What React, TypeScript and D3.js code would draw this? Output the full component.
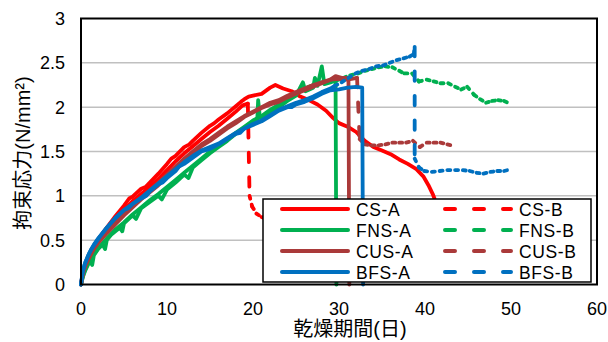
import React, { useEffect, useRef } from 'react';
import * as d3 from 'd3';

type Pt = [number, number];

// days / restraint stress (N/mm2)
const csA: Pt[] = [[0,0],[0.2,0.12],[0.5,0.22],[1,0.34],[1.5,0.43],[2,0.51],[3,0.64],[4,0.77],[5,0.89],[5.6,0.97],[6,0.99],[7,1.08],[7.5,1.1],[8,1.15],[9,1.25],[10,1.36],[10.5,1.42],[11,1.45],[12,1.55],[12.6,1.58],[13,1.62],[14,1.71],[15,1.79],[15.5,1.82],[16,1.86],[17,1.93],[18,2.01],[18.6,2.06],[19,2.09],[19.5,2.12],[20,2.13],[21,2.15],[22,2.22],[22.6,2.25],[23.5,2.21],[24.5,2.18],[25.5,2.12],[26.5,2.08],[27.5,2.03],[28.5,1.96],[29.3,1.88],[30,1.82],[31,1.78],[32,1.72],[33,1.62],[34,1.55],[35,1.51],[36,1.47],[37,1.41],[38,1.36],[39,1.3],[39.8,1.22],[40.4,1.12],[40.9,1.02],[41.1,0.97]];
const csBRise: Pt[] = [[0,0],[0.2,0.11],[0.5,0.2],[1,0.31],[1.5,0.4],[2,0.48],[3,0.6],[4,0.72],[5,0.84],[6,0.94],[7,1.02],[8,1.1],[9,1.19],[10,1.29],[11,1.39],[12,1.48],[13,1.56],[14,1.64],[15,1.72],[16,1.79],[17,1.87],[18,1.95],[18.8,2.02],[19.4,2.04]];
const csBTail: Pt[] = [[19.4,2.04],[19.6,1.0],[19.9,0.88],[20.4,0.8],[21,0.76],[22,0.72],[23,0.7]];

const fnsA: Pt[] = [[0,0],[0.2,0.08],[0.5,0.16],[1,0.26],[1.3,0.22],[1.5,0.33],[2,0.4],[2.5,0.45],[2.8,0.4],[3,0.5],[3.5,0.56],[4,0.6],[4.5,0.64],[4.8,0.6],[5,0.69],[6,0.78],[6.4,0.74],[7,0.86],[8,0.93],[9,1.0],[9.4,0.96],[10,1.07],[11,1.15],[12,1.24],[12.5,1.2],[13,1.32],[14,1.4],[15,1.48],[16,1.55],[17,1.62],[18,1.7],[19,1.77],[20,1.84],[20.5,1.86],[20.6,2.08],[20.8,1.88],[22,1.94],[23,2.0],[24,2.07],[25,2.13],[25.8,2.28],[26.1,2.18],[27,2.22],[27.2,2.33],[27.5,2.24],[28,2.46],[28.3,2.26],[29,2.28],[29.6,2.3],[29.7,0]];
const fnsBRise: Pt[] = [[0,0],[0.3,0.12],[0.7,0.22],[1.2,0.3],[2,0.41],[3,0.52],[4,0.62],[5,0.7],[6,0.79],[7,0.87],[8,0.95],[9,1.02],[10,1.1],[11,1.18],[12,1.26],[13,1.34],[14,1.42],[15,1.5],[16,1.57],[17,1.64],[18,1.71],[19,1.78],[20,1.85],[21,1.9],[22,1.97],[23,2.03],[24,2.09],[25,2.15],[26,2.21],[27,2.25],[28,2.28],[29,2.3],[29.7,2.3]];
const fnsBTail: Pt[] = [[29.7,2.3],[30.5,2.33],[31.3,2.36],[32.2,2.38],[33,2.41],[33.8,2.43],[34.6,2.45],[35.4,2.46],[36.2,2.45],[37,2.41],[37.6,2.38],[38.5,2.38],[39.3,2.29],[40.2,2.31],[41,2.29],[41.8,2.27],[42.7,2.27],[43.5,2.23],[44.2,2.2],[44.9,2.23],[45.7,2.14],[46.4,2.09],[47.1,2.05],[47.8,2.07],[48.5,2.08],[49.2,2.07],[49.9,2.04]];

const cusA: Pt[] = [[0,0],[0.2,0.12],[0.5,0.21],[1,0.31],[1.5,0.4],[2,0.47],[3,0.58],[4,0.68],[5,0.78],[6,0.87],[7,0.96],[8,1.04],[9,1.12],[10,1.21],[11,1.31],[12,1.4],[13,1.48],[14,1.56],[15,1.62],[16,1.69],[17,1.76],[18,1.82],[19,1.89],[20,1.94],[21,1.99],[22,2.03],[23,2.06],[24,2.11],[25,2.15],[26,2.19],[27,2.23],[28,2.27],[29,2.31],[29.6,2.35],[30.3,2.33],[31.1,2.33],[31.2,0]];
const cusBRise: Pt[] = [[0,0],[0.3,0.15],[0.7,0.26],[1.2,0.36],[2,0.48],[3,0.59],[4,0.69],[5,0.8],[6,0.89],[7,0.98],[8,1.06],[9,1.15],[10,1.24],[11,1.33],[12,1.42],[13,1.5],[14,1.58],[15,1.64],[16,1.71],[17,1.78],[18,1.84],[19,1.9],[20,1.95],[21,2.0],[22,2.05],[23,2.08],[24,2.13],[25,2.17],[26,2.21],[27,2.25],[28,2.28],[29,2.31],[30,2.32],[31,2.31],[32.1,2.33]];
const cusBTail: Pt[] = [[32.1,2.33],[32.4,1.64],[33,1.58],[33.8,1.57],[34.6,1.57],[35.4,1.58],[36.2,1.6],[37,1.6],[37.8,1.6],[38.6,1.62],[39.4,1.55],[40.2,1.6],[41,1.6],[41.8,1.6],[42.6,1.58],[43.5,1.56]];

const bfsA: Pt[] = [[0,0],[0.15,0.12],[0.4,0.22],[0.8,0.32],[1.2,0.4],[1.7,0.47],[2.2,0.54],[3,0.64],[4,0.75],[5,0.84],[5.5,0.86],[6,0.91],[7,0.97],[7.6,1.0],[8,1.05],[9,1.13],[9.5,1.15],[10,1.2],[11,1.28],[11.4,1.33],[12,1.36],[13,1.43],[14,1.5],[15,1.53],[16,1.58],[17,1.64],[18,1.7],[18.5,1.71],[19,1.76],[20,1.8],[21,1.84],[22,1.9],[23,1.96],[24,2.0],[24.5,2.0],[25,2.03],[26,2.06],[27,2.1],[28,2.15],[29,2.19],[30,2.2],[31,2.22],[32,2.23],[32.7,2.22],[32.8,0]];
const bfsBRise: Pt[] = [[0,0],[0.2,0.14],[0.5,0.25],[1,0.36],[1.5,0.45],[2,0.52],[3,0.64],[4,0.75],[5,0.84],[6,0.91],[7,0.98],[8,1.06],[9,1.14],[10,1.22],[11,1.3],[12,1.38],[13,1.45],[14,1.51],[15,1.55],[16,1.59],[17,1.65],[18,1.71],[19,1.76],[20,1.81],[21,1.85],[22,1.91],[23,1.97],[24,2.01],[25,2.05],[26,2.08],[27,2.12],[28,2.17],[29,2.21],[29.5,2.24]];
const bfsBTail: Pt[] = [[29.5,2.24],[30.3,2.28],[31.1,2.33],[31.9,2.38],[32.7,2.41],[33.5,2.43],[34.3,2.46],[35.1,2.47],[35.9,2.5],[36.7,2.53],[37.5,2.55],[38.2,2.57],[38.7,2.6],[38.8,2.68],[38.8,1.42],[39.3,1.32],[39.9,1.28],[40.8,1.27],[41.7,1.28],[42.6,1.29],[43.5,1.29],[44.4,1.29],[45.2,1.28],[46,1.26],[46.8,1.25],[47.6,1.27],[48.4,1.28],[49.2,1.28],[49.6,1.29]];

const xTicks = [0, 10, 20, 30, 40, 50, 60];
const yTicks = [0, 0.5, 1, 1.5, 2, 2.5, 3];

const RED = '#FF0000';
const GREEN = '#00B050';
const BROWN = '#AA3A3A';
const BLUE = '#0070C0';

const series = [
  { name: 'CS-A', color: RED, rise: csA, tail: [] as Pt[], dashed: false },
  { name: 'CS-B', color: RED, rise: csBRise, tail: csBTail, dashed: true },
  { name: 'FNS-A', color: GREEN, rise: fnsA, tail: [] as Pt[], dashed: false },
  { name: 'FNS-B', color: GREEN, rise: fnsBRise, tail: fnsBTail, dashed: true },
  { name: 'CUS-A', color: BROWN, rise: cusA, tail: [] as Pt[], dashed: false },
  { name: 'CUS-B', color: BROWN, rise: cusBRise, tail: cusBTail, dashed: true },
  { name: 'BFS-A', color: BLUE, rise: bfsA, tail: [] as Pt[], dashed: false },
  { name: 'BFS-B', color: BLUE, rise: bfsBRise, tail: bfsBTail, dashed: true },
];

const FONT = '"Liberation Sans", Arial, "Noto Sans CJK JP", sans-serif';

const App = () => {
  const ref = useRef<SVGSVGElement>(null);

  useEffect(() => {
    const svg = d3.select(ref.current);
    svg.selectAll('*').remove();

    const left = 81, right = 597, top = 18.5, bottom = 284.5;
    const x = d3.scaleLinear().domain([0, 60]).range([left, right]);
    const y = d3.scaleLinear().domain([0, 3]).range([bottom, top]);

    // gridlines
    svg.append('g')
      .selectAll('line')
      .data(yTicks.slice(1, -1))
      .enter().append('line')
      .attr('x1', left).attr('x2', right)
      .attr('y1', d => y(d)).attr('y2', d => y(d))
      .attr('stroke', '#C0C0C0')
      .attr('stroke-width', 1.5);

    const line = d3.line<Pt>().x(d => x(d[0])).y(d => y(d[1]));

    series.forEach(s => {
      svg.append('path')
        .attr('d', line(s.rise))
        .attr('fill', 'none')
        .attr('stroke', s.color)
        .attr('stroke-width', 3.8)
        .attr('stroke-linejoin', 'round')
        .attr('stroke-linecap', 'round');

      // dashed part: dash pattern restarts on every segment, like Excel
      const segs = d3.pairs(s.tail);
      svg.append('g')
        .selectAll('line')
        .data(segs)
        .enter().append('line')
        .attr('x1', d => x(d[0][0])).attr('y1', d => y(d[0][1]))
        .attr('x2', d => x(d[1][0])).attr('y2', d => y(d[1][1]))
        .attr('stroke', s.color)
        .attr('stroke-width', 3.8)
        .attr('stroke-linecap', 'round')
        .attr('stroke-dasharray', d => {
          const len = Math.hypot(x(d[1][0]) - x(d[0][0]), y(d[1][1]) - y(d[0][1]));
          return len > 20 ? '9.5,15' : '3,6';
        });
    });

    // frame
    svg.append('rect')
      .attr('x', left).attr('y', top)
      .attr('width', right - left).attr('height', bottom - top)
      .attr('fill', 'none')
      .attr('stroke', '#000')
      .attr('stroke-width', 2);

    // tick labels
    svg.append('g')
      .selectAll('text')
      .data(yTicks)
      .enter().append('text')
      .attr('x', 65)
      .attr('y', d => y(d) + 6.5)
      .attr('text-anchor', 'end')
      .attr('font-family', FONT)
      .attr('font-size', 18)
      .text(d => String(d));

    svg.append('g')
      .selectAll('text')
      .data(xTicks)
      .enter().append('text')
      .attr('x', d => x(d))
      .attr('y', 315)
      .attr('text-anchor', 'middle')
      .attr('font-family', FONT)
      .attr('font-size', 18)
      .text(d => String(d));

    // axis titles
    svg.append('text')
      .attr('transform', 'translate(30,153) rotate(-90)')
      .attr('text-anchor', 'middle')
      .attr('font-family', FONT)
      .attr('font-size', 20)
      .text('拘束応力(N/mm²)');

    svg.append('text')
      .attr('x', 350)
      .attr('y', 336)
      .attr('text-anchor', 'middle')
      .attr('font-family', FONT)
      .attr('font-size', 20)
      .text('乾燥期間(日)');

    // legend
    const lg = svg.append('g');
    lg.append('rect')
      .attr('x', 263).attr('y', 199)
      .attr('width', 328).attr('height', 83)
      .attr('fill', '#fff')
      .attr('stroke', '#000')
      .attr('stroke-width', 1.5);

    series.forEach((s, i) => {
      const col = i % 2;
      const row = Math.floor(i / 2);
      const cy = 209 + row * 21;
      const lx = col === 0 ? 282 : 445;
      lg.append('line')
        .attr('x1', lx).attr('x2', lx + 66)
        .attr('y1', cy).attr('y2', cy)
        .attr('stroke', s.color)
        .attr('stroke-width', 4)
        .attr('stroke-linecap', 'round')
        .attr('stroke-dasharray', s.dashed ? '10,19' : null);
      lg.append('text')
        .attr('x', col === 0 ? 356 : 519)
        .attr('y', cy + 6.5)
        .attr('font-family', FONT)
        .attr('font-size', 17.5)
        .attr('letter-spacing', 0.6)
        .text(s.name);
    });
  }, []);

  return (
    <svg ref={ref} width={608} height={342} style={{ position: 'absolute', left: 0, top: 0, background: '#fff' }}></svg>
  );
};

export default App;
